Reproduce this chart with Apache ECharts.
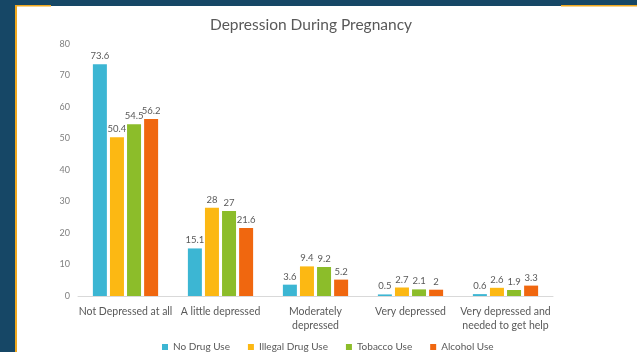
<!DOCTYPE html>
<html><head><meta charset="utf-8">
<script src="https://cdn.jsdelivr.net/npm/echarts@6/dist/echarts.min.js"></script>
<style>html,body{margin:0;padding:0;background:#164766}#c{width:637px;height:352px}</style>
</head><body><div id="c"></div>
<script>
const categories = ['Not Depressed at all','A little depressed','Moderately\ndepressed','Very depressed','Very depressed and\nneeded to get help'];
const seriesNames = ['No Drug Use','Illegal Drug Use','Tobacco Use','Alcohol Use'];
const noDrug = [73.6, 15.1, 3.6, 0.5, 0.6];
const illegalDrug = [50.4, 28, 9.4, 2.7, 2.6];
const tobacco = [54.5, 27, 9.2, 2.1, 1.9];
const alcohol = [56.2, 21.6, 5.2, 2, 3.3];
const colors = ['#3cb6d3','#fcb813','#8cbd2a','#f0670f'];
const FONT = 'Lato, "Open Sans", sans-serif';
const chart = echarts.init(document.getElementById('c'));
const values = [noDrug, illegalDrug, tobacco, alcohol];
chart.setOption({
  backgroundColor: '#164766',
  animation: false,
  graphic: [
    {type:'rect', shape:{x:16,y:6,width:621,height:346}, style:{fill:'#ffffff'}, z:-10},
    {type:'rect', shape:{x:15,y:6,width:2,height:346}, style:{fill:'#f0a81e'}, z:-9},
    {type:'rect', shape:{x:15,y:5,width:36,height:1.5}, style:{fill:'#f0a81e'}, z:-9},
    {type:'rect', shape:{x:561,y:5,width:76,height:1.5}, style:{fill:'#f0a81e'}, z:-9}
  ],
  title: {
    text: 'Depression During Pregnancy', left: 306, top: 12, textAlign: 'center',
    textStyle: {fontFamily: FONT, fontSize: 15.5, fontWeight: 'normal', color: '#595959'}
  },
  legend: {
    data: seriesNames, top: 337, left: 157, itemWidth: 6, itemHeight: 6, itemGap: 18,
    icon: 'rect', textStyle: {fontFamily: FONT, fontSize: 10, color: '#595959'}
  },
  grid: {left: 78, right: 84, top: 44, bottom: 56},
  xAxis: {
    type: 'category', data: categories,
    axisLine: {lineStyle: {color: '#d9d9d9'}}, axisTick: {show: false},
    axisLabel: {fontFamily: FONT, fontSize: 10.5, color: '#595959', margin: 9, lineHeight: 14, interval: 0}
  },
  yAxis: {
    type: 'value', min: 0, max: 80, interval: 10,
    axisLine: {show: false}, axisTick: {show: false}, splitLine: {show: false},
    axisLabel: {fontFamily: FONT, fontSize: 9, color: '#7f7f7f', margin: 8}
  },
  series: seriesNames.map((n, i) => ({
    name: n, type: 'bar', data: values[i], barWidth: 14, barGap: '22%',
    itemStyle: {color: colors[i]},
    label: {show: true, position: 'top', distance: 3, fontFamily: FONT, fontSize: 9.5, color: '#595959'}
  }))
});
</script></body></html>
